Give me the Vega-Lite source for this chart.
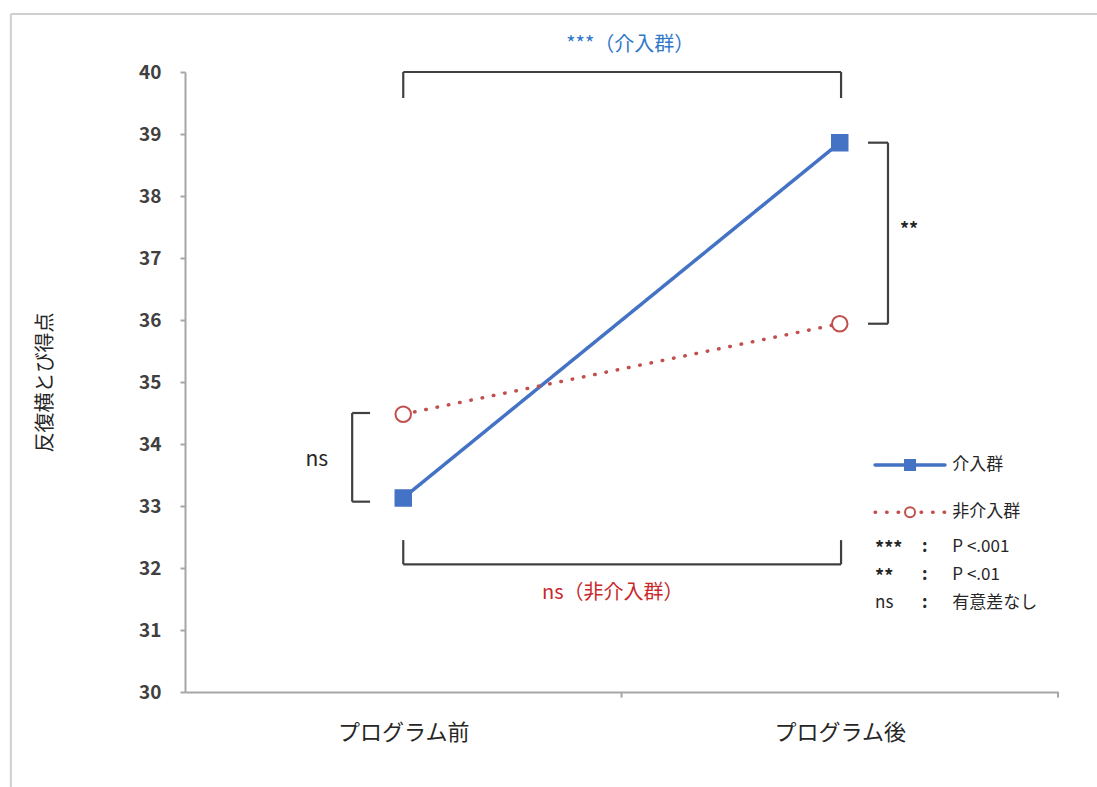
{
  "$schema": "https://vega.github.io/schema/vega-lite/v6.json",
  "width": 873,
  "height": 620,
  "autosize": "none",
  "padding": {"left": 185, "top": 72, "right": 39, "bottom": 95},
  "background": "white",
  "config": {
    "view": {"stroke": null},
    "font": "Noto Sans CJK JP",
    "axis": {"grid": false}
  },
  "datasets": {
    "scores": [
      {"phase": "プログラム前", "group": "介入群", "score": 33.13},
      {"phase": "プログラム後", "group": "介入群", "score": 38.86},
      {"phase": "プログラム前", "group": "非介入群", "score": 34.48},
      {"phase": "プログラム後", "group": "非介入群", "score": 35.94}
    ],
    "frame": [
      {"x": -0.399, "x2": 2.1, "y": 40.935, "y2": 40.935},
      {"x": -0.399, "x2": -0.399, "y": 40.935, "y2": 28.3}
    ],
    "xticks": [
      {"x": 1, "x2": 1, "y": 30, "y2": 29.91},
      {"x": 2, "x2": 2, "y": 30, "y2": 29.91}
    ],
    "brackets": [
      {"x": 0.5, "x2": 1.503, "y": 40.0, "y2": 40.0},
      {"x": 0.5, "x2": 0.5, "y": 40.0, "y2": 39.58},
      {"x": 1.503, "x2": 1.503, "y": 40.0, "y2": 39.58},
      {"x": 0.5, "x2": 1.503, "y": 32.06, "y2": 32.06},
      {"x": 0.5, "x2": 0.5, "y": 32.06, "y2": 32.45},
      {"x": 1.503, "x2": 1.503, "y": 32.06, "y2": 32.45},
      {"x": 0.383, "x2": 0.383, "y": 34.5, "y2": 33.07},
      {"x": 0.383, "x2": 0.424, "y": 34.5, "y2": 34.5},
      {"x": 0.383, "x2": 0.424, "y": 33.07, "y2": 33.07},
      {"x": 1.6105, "x2": 1.6105, "y": 38.86, "y2": 35.94},
      {"x": 1.5647, "x2": 1.6105, "y": 38.86, "y2": 38.86},
      {"x": 1.5647, "x2": 1.6105, "y": 35.94, "y2": 35.94}
    ],
    "legendLines": [
      {"group": "介入群", "x": 1.581, "x2": 1.741, "y": 33.66},
      {"group": "非介入群", "x": 1.581, "x2": 1.741, "y": 32.9}
    ],
    "legendPoints": [
      {"group": "介入群", "x": 1.661, "y": 33.66},
      {"group": "非介入群", "x": 1.661, "y": 32.9}
    ],
    "texts": [
      {"role": "title_int", "label": "***（介入群）", "x": 1.02, "y": 40.43},
      {"role": "title_non", "label": "ns（非介入群）", "x": 0.98, "y": 31.6},
      {"role": "note", "label": "ns", "x": 0.302, "y": 33.74},
      {"role": "ast", "label": "**", "x": 1.638, "y": 37.48},
      {"role": "legend", "label": "介入群", "x": 1.758, "y": 33.66},
      {"role": "legend", "label": "非介入群", "x": 1.758, "y": 32.9},
      {"role": "ast", "label": "***", "x": 1.581, "y": 32.34},
      {"role": "ast", "label": "**", "x": 1.581, "y": 31.89},
      {"role": "legend", "label": "ns", "x": 1.581, "y": 31.44},
      {"role": "colon", "label": ":", "x": 1.695, "y": 32.34},
      {"role": "colon", "label": ":", "x": 1.695, "y": 31.89},
      {"role": "colon", "label": ":", "x": 1.695, "y": 31.44},
      {"role": "legend", "label": "P <.001", "x": 1.758, "y": 32.34},
      {"role": "legend", "label": "P <.01", "x": 1.758, "y": 31.89},
      {"role": "legend", "label": "有意差なし", "x": 1.758, "y": 31.44}
    ]
  },
  "resolve": {"scale": {"x": "independent"}, "axis": {"x": "independent", "y": "independent"}},
  "layer": [
    {
      "data": {"name": "scores"},
      "encoding": {
        "x": {
          "field": "phase",
          "type": "ordinal",
          "scale": {"type": "point", "domain": ["プログラム前", "プログラム後"], "padding": 0.5},
          "axis": {
            "title": null,
            "ticks": false,
            "tickSize": 0,
            "labelAngle": 0,
            "labelFontSize": 22,
            "labelColor": "#262626",
            "labelPadding": 30,
            "domainColor": "#a6a6a6",
            "domainWidth": 2
          }
        },
        "y": {
          "field": "score",
          "type": "quantitative",
          "scale": {"domain": [30, 40]},
          "axis": {
            "values": [30, 31, 32, 33, 34, 35, 36, 37, 38, 39, 40],
            "title": "反復横とび得点",
            "titleFontSize": 20,
            "titleFontWeight": "normal",
            "titleColor": "#262626",
            "titleAngle": -90,
            "titleX": -140,
            "titleY": 310,
            "titleAlign": "center",
            "titleBaseline": "middle",
            "labelFontSize": 19,
            "labelFontWeight": "bold",
            "labelColor": "#404040",
            "labelPadding": 19,
            "tickSize": 5,
            "tickColor": "#a6a6a6",
            "tickWidth": 2,
            "domainColor": "#a6a6a6",
            "domainWidth": 2
          }
        }
      },
      "layer": [
        {
          "mark": {"type": "line", "strokeWidth": 3.5, "strokeCap": "round"},
          "encoding": {
            "color": {"field": "group", "type": "nominal", "scale": {"domain": ["介入群", "非介入群"], "range": ["#4472C4", "#C0504D"]}, "legend": null},
            "strokeDash": {"field": "group", "type": "nominal", "scale": {"domain": ["介入群", "非介入群"], "range": [[1, 0], [0.5, 11]]}, "legend": null}
          }
        },
        {
          "mark": {"type": "point", "filled": true, "strokeWidth": 2, "opacity": 1},
          "encoding": {
            "shape": {"field": "group", "type": "nominal", "scale": {"domain": ["介入群", "非介入群"], "range": ["square", "circle"]}, "legend": null},
            "fill": {"field": "group", "type": "nominal", "scale": {"domain": ["介入群", "非介入群"], "range": ["#4472C4", "#ffffff"]}, "legend": null},
            "stroke": {"field": "group", "type": "nominal", "scale": {"domain": ["介入群", "非介入群"], "range": ["#4472C4", "#C0504D"]}, "legend": null},
            "size": {"value": 240}
          }
        }
      ]
    },
    {
      "encoding": {
        "x": {"field": "x", "type": "quantitative", "scale": {"domain": [0, 2]}, "axis": null},
        "y": {"field": "y", "type": "quantitative", "axis": null}
      },
      "layer": [
        {
          "data": {"name": "frame"},
          "mark": {"type": "rule", "color": "#cfcfcf", "strokeWidth": 2},
          "encoding": {"x2": {"field": "x2"}, "y2": {"field": "y2"}}
        },
        {
          "data": {"name": "xticks"},
          "mark": {"type": "rule", "color": "#a6a6a6", "strokeWidth": 2},
          "encoding": {"x2": {"field": "x2"}, "y2": {"field": "y2"}}
        },
        {
          "data": {"name": "brackets"},
          "mark": {"type": "rule", "color": "#404040", "strokeWidth": 2.2},
          "encoding": {"x2": {"field": "x2"}, "y2": {"field": "y2"}}
        },
        {
          "data": {"name": "legendLines"},
          "mark": {"type": "rule", "strokeWidth": 3.5, "strokeCap": "round"},
          "encoding": {
            "x2": {"field": "x2"},
            "color": {"field": "group", "type": "nominal", "scale": {"domain": ["介入群", "非介入群"], "range": ["#4472C4", "#C0504D"]}, "legend": null},
            "strokeDash": {"field": "group", "type": "nominal", "scale": {"domain": ["介入群", "非介入群"], "range": [[1, 0], [0.5, 11]]}, "legend": null}
          }
        },
        {
          "data": {"name": "legendPoints"},
          "mark": {"type": "point", "filled": true, "strokeWidth": 2, "opacity": 1},
          "encoding": {
            "shape": {"field": "group", "type": "nominal", "scale": {"domain": ["介入群", "非介入群"], "range": ["square", "circle"]}, "legend": null},
            "fill": {"field": "group", "type": "nominal", "scale": {"domain": ["介入群", "非介入群"], "range": ["#4472C4", "#ffffff"]}, "legend": null},
            "stroke": {"field": "group", "type": "nominal", "scale": {"domain": ["介入群", "非介入群"], "range": ["#4472C4", "#C0504D"]}, "legend": null},
            "size": {"value": 100}
          }
        },
        {
          "data": {"name": "texts"},
          "transform": [{"filter": "datum.role === 'title_int'"}],
          "mark": {"type": "text", "color": "#2F78C8", "fontSize": 20, "align": "center", "baseline": "middle"},
          "encoding": {"text": {"field": "label"}}
        },
        {
          "data": {"name": "texts"},
          "transform": [{"filter": "datum.role === 'title_non'"}],
          "mark": {"type": "text", "color": "#C8282A", "fontSize": 20, "align": "center", "baseline": "middle"},
          "encoding": {"text": {"field": "label"}}
        },
        {
          "data": {"name": "texts"},
          "transform": [{"filter": "datum.role === 'note'"}],
          "mark": {"type": "text", "color": "#262626", "fontSize": 21, "align": "center", "baseline": "middle"},
          "encoding": {"text": {"field": "label"}}
        },
        {
          "data": {"name": "texts"},
          "transform": [{"filter": "datum.role === 'ast'"}],
          "mark": {"type": "text", "color": "#262626", "fontSize": 18, "fontWeight": "bold", "align": "left", "baseline": "middle", "dy": 3},
          "encoding": {"text": {"field": "label"}}
        },
        {
          "data": {"name": "texts"},
          "transform": [{"filter": "datum.role === 'legend'"}],
          "mark": {"type": "text", "color": "#262626", "fontSize": 17, "align": "left", "baseline": "middle"},
          "encoding": {"text": {"field": "label"}}
        },
        {
          "data": {"name": "texts"},
          "transform": [{"filter": "datum.role === 'colon'"}],
          "mark": {"type": "text", "color": "#262626", "fontSize": 17, "fontWeight": "bold", "align": "center", "baseline": "middle"},
          "encoding": {"text": {"field": "label"}}
        }
      ]
    }
  ]
}
